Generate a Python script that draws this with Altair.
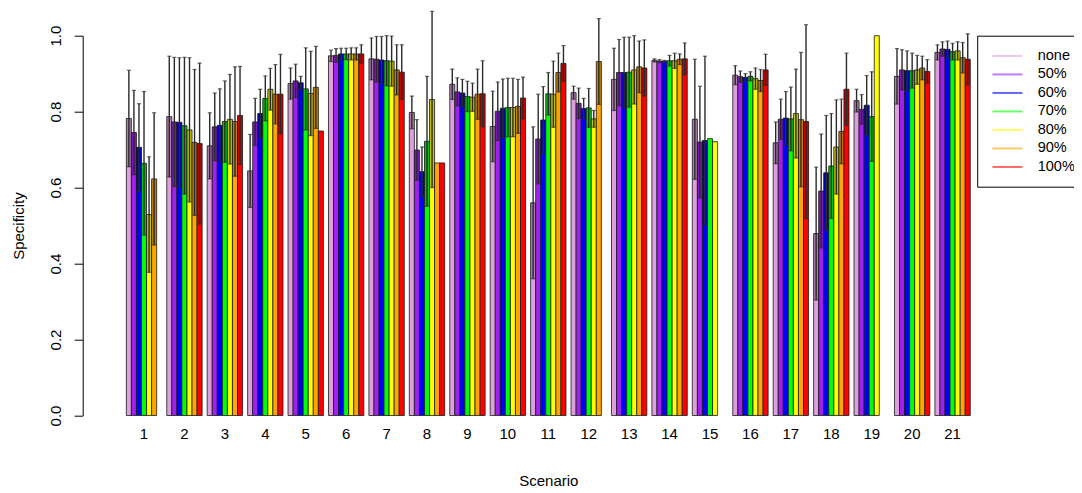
import altair as alt
import pandas as pd

FONT = "Liberation Sans"

series = ["none", "50%", "60%", "70%", "80%", "90%", "100%"]
colors = ["#DDA0DD", "#A020F0", "#0000FF", "#00FF00", "#FFFF00", "#FFA500", "#FF0000"]
scenarios = list(range(1, 22))

none_mean = [.782, .787, .710, .644, .874, .947, .939, .798, .872, .761, .560, .850, .885, .935, .780, .896, .718, .479, .829, .893, .956]
none_sd = [.127, .159, .087, .096, .041, .015, .055, .043, .040, .093, .200, .017, .082, .004, .158, .025, .055, .175, .030, .073, .020]

p50_mean = [.745, .773, .760, .773, .881, .948, .938, .699, .852, .801, .728, .822, .903, .933, .720, .892, .780, .591, .806, .910, .965]
p50_sd = [.111, .170, .089, .062, .044, .018, .060, .080, .037, .077, .118, .040, .087, .004, .147, .015, .053, .150, .039, .053, .019]

p60_mean = [.706, .772, .764, .795, .876, .952, .936, .642, .849, .809, .778, .808, .903, .933, .724, .890, .783, .639, .817, .908, .964]
p60_sd = [.115, .170, .096, .064, .017, .015, .062, .065, .036, .077, .088, .027, .093, .002, .222, .010, .070, .151, .078, .052, .022]

p70_mean = [.664, .763, .774, .835, .860, .952, .934, .722, .840, .811, .847, .810, .904, .934, .729, .893, .781, .657, .787, .908, .958]
p70_sd = [.189, .180, .107, .059, .108, .015, .066, .171, .040, .077, .056, .051, .092, .014, 0, .012, .084, .138, .118, .046, .022]

p80_mean = [.529, .752, .780, .859, .848, .952, .933, .832, .838, .811, .846, .781, .910, .934, .721, .887, .795, .707, 1.000, .910, .960]
p80_sd = [.152, .190, .118, .055, .111, .016, .066, .232, .037, .077, .087, .022, .090, .020, 0, .028, .117, .124, 0, .038, .024]

p90_mean = [.623, .719, .774, .846, .864, .952, .910, .665, .846, .814, .903, .932, .918, .938, None, .882, .779, .748, None, .915, .942]
p90_sd = [.174, .192, .144, .078, .108, .016, .066, 0, .066, .071, .051, .113, .068, .014, None, .029, .177, .085, None, .031, .040]

p100_mean = [None, .716, .790, .846, .749, .952, .904, .665, .847, .836, .927, None, .915, .939, None, .910, .774, .859, None, .906, .938]
p100_sd = [None, .212, .129, .105, 0, .024, .072, 0, .087, .055, .047, None, .074, .042, None, .041, .255, .095, None, .031, .067]

y_ticks = [0.0, 0.2, 0.4, 0.6, 0.8, 1.0]

means = [none_mean, p50_mean, p60_mean, p70_mean, p80_mean, p90_mean, p100_mean]
sds = [none_sd, p50_sd, p60_sd, p70_sd, p80_sd, p90_sd, p100_sd]

rows = []
for s, ml, sl in zip(series, means, sds):
    for sc, m, sd in zip(scenarios, ml, sl):
        if m is None:
            continue
        rows.append(dict(scenario=sc, series=s, mean=m, sd=sd, lo=m - sd, hi=m + sd))
df = pd.DataFrame(rows)
err = df[df["sd"] > 0]

W = 924.8
H = 379.8

x_enc = alt.X(
    "scenario:O",
    title="Scenario",
    scale=alt.Scale(paddingInner=0.125, paddingOuter=1, round=False),
    axis=alt.Axis(
        labelAngle=0, domain=False, ticks=False, labelPadding=11,
        labelFontSize=15, labelFont=FONT, labelColor="black",
        titleFontSize=15, titleFont=FONT, titleColor="black", titleFontWeight="normal",
        titleY=65, titleBaseline="middle",
    ),
)
xo_enc = alt.XOffset("series:N", scale=alt.Scale(domain=series, paddingInner=0, paddingOuter=0, round=False))


def Y(field):
    return alt.Y(
        field,
        title="Specificity",
        scale=alt.Scale(domain=[0, 1], nice=False, zero=True),
        axis=alt.Axis(
            values=y_ticks, format=".1f", grid=False, tickSize=8.5, tickColor="black",
            domainColor="black", labelAngle=270, labelAlign="center", labelBaseline="middle",
            labelPadding=18.4, labelFontSize=15, labelFont=FONT, labelColor="black",
            titleFontSize=15, titleFont=FONT, titleColor="black", titleFontWeight="normal",
            titleAngle=270, titleAlign="center", titleBaseline="middle",
            titleX=-64.7, titleY=H / 2, offset=3.2,
        ),
    )


color_enc = alt.Color(
    "series:N",
    scale=alt.Scale(domain=series, range=colors),
    legend=alt.Legend(
        title=None, orient="none", legendX=891.3, legendY=0, direction="vertical",
        padding=13, strokeColor="black", fillColor="white", cornerRadius=0,
        labelFontSize=14.5, labelFont=FONT, labelColor="black", labelOffset=33,
        symbolType="M-1,-0.2H5V0.2H-1Z", symbolSize=100, symbolStrokeWidth=0,
        symbolOpacity=0.6, rowPadding=3.5,
    ),
)

bars = alt.Chart(df).mark_bar(stroke="#1a1a1a", strokeWidth=0.8).encode(
    x=x_enc, xOffset=xo_enc, y=Y("mean:Q"), color=color_enc
)
shade = alt.Chart(err).mark_bar(color="black", opacity=0.22).encode(
    x=x_enc, xOffset=xo_enc, y=Y("lo:Q"), y2="mean:Q"
)
rule = alt.Chart(err).mark_rule(color="#2a2a2a", strokeWidth=1.4).encode(
    x=x_enc, xOffset=xo_enc, y=Y("lo:Q"), y2="hi:Q"
)
cap_hi = alt.Chart(err).mark_tick(color="#2a2a2a", thickness=1.2, size=4).encode(
    x=x_enc, xOffset=xo_enc, y=Y("hi:Q")
)
cap_lo = alt.Chart(err).mark_tick(color="#2a2a2a", thickness=1.2, size=4).encode(
    x=x_enc, xOffset=xo_enc, y=Y("lo:Q")
)

chart = alt.layer(bars, shade, rule, cap_hi, cap_lo).properties(
    width=W, height=H,
    padding={"left": 77.9, "top": 27.7, "right": 63.3, "bottom": 75},
    autosize=alt.AutoSizeParams(type="none"),
).configure_view(stroke=None)

chart.save("out.html", embed_options={"renderer": "svg", "actions": False})
